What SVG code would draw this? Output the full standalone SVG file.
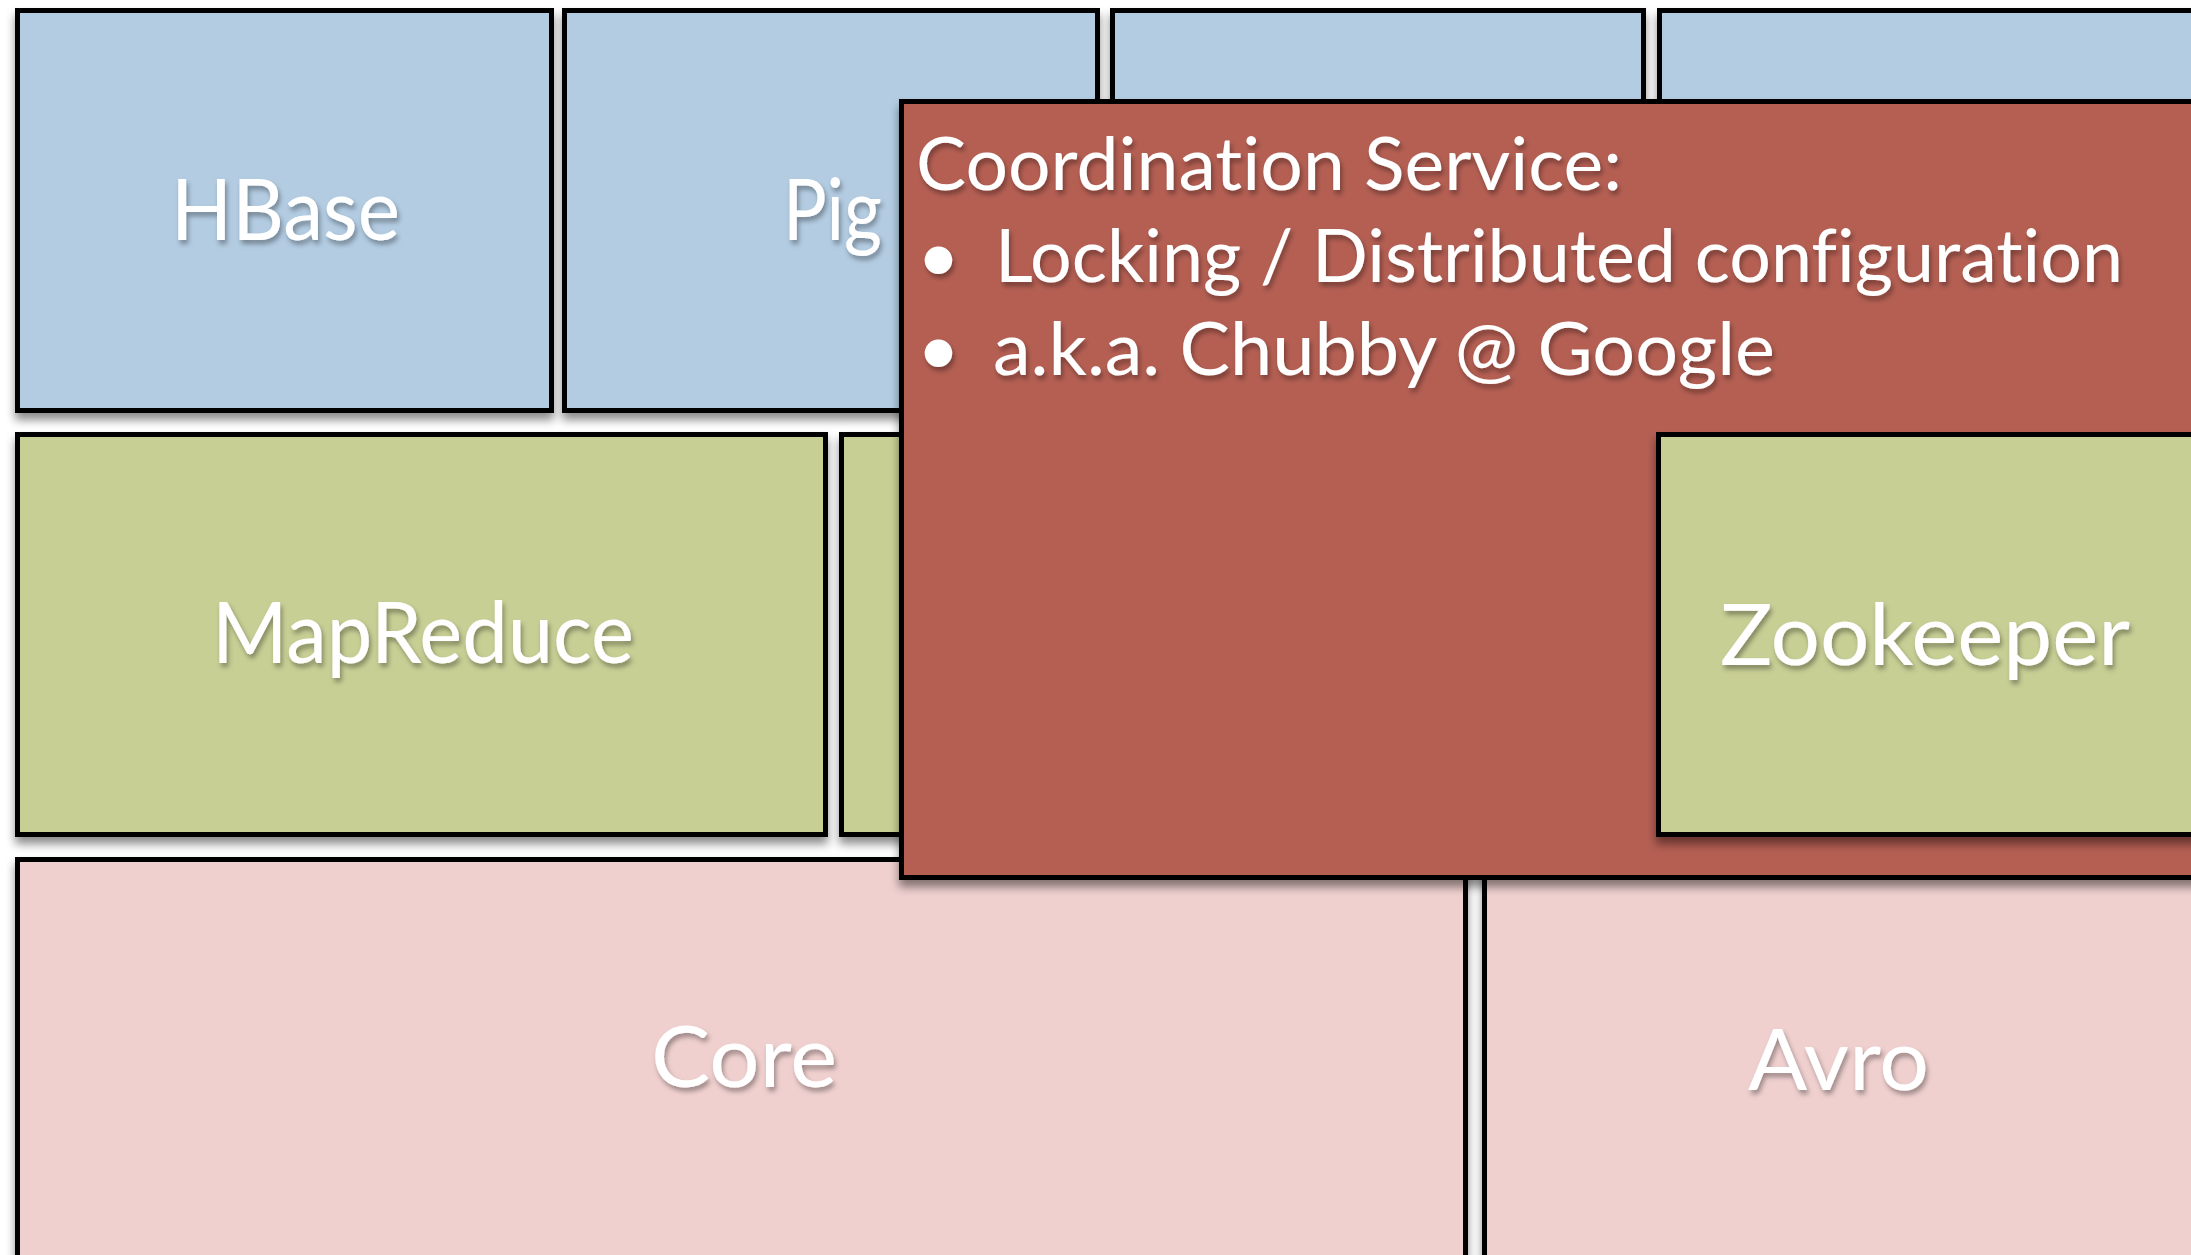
<svg xmlns="http://www.w3.org/2000/svg" width="2191" height="1255" viewBox="0 0 2191 1255">
  <defs>
    <filter id="boxShadow" x="-5%" y="-5%" width="110%" height="115%">
      <feDropShadow dx="0" dy="7" stdDeviation="5" flood-color="#000" flood-opacity="0.45"/>
    </filter>
    <filter id="textShadow" x="-10%" y="-20%" width="120%" height="150%">
      <feDropShadow dx="2" dy="4" stdDeviation="2.5" flood-color="#000" flood-opacity="0.35"/>
    </filter>
  </defs>
  <style>
    .box { stroke: #000; stroke-width: 5; filter: url(#boxShadow); }
    .blue { fill: #b3cce2; }
    .green { fill: #c8cf95; }
    .pink { fill: #efd0cf; }
    .red { fill: #b55e52; }
    .label { font-family: "Lato", "Open Sans", "Liberation Sans", sans-serif; font-size: 86px; fill: #fff; filter: url(#textShadow); font-variant-ligatures: none; }
    .body { font-family: "Lato", "Open Sans", "Liberation Sans", sans-serif; font-size: 74px; fill: #fff; filter: url(#textShadow); font-variant-ligatures: none; }
  </style>
  <rect x="0" y="0" width="2191" height="1255" fill="#ffffff"/>

  <g id="hbase">
    <rect class="box blue" x="17.5" y="10.5" width="534" height="400"/>
    <text class="label" x="171" y="240" textLength="229" lengthAdjust="spacingAndGlyphs">HBase</text>
  </g>
  <g id="pig">
    <rect class="box blue" x="564.5" y="10.5" width="533" height="400"/>
    <text class="label" x="783" y="240" textLength="99" lengthAdjust="spacingAndGlyphs">Pig</text>
  </g>
  <g id="blue3">
    <rect class="box blue" x="1112.5" y="10.5" width="531" height="400"/>
  </g>
  <g id="blue4">
    <rect class="box blue" x="1659.5" y="10.5" width="600" height="400"/>
  </g>

  <g id="mapreduce">
    <rect class="box green" x="17.5" y="434.5" width="808" height="400"/>
    <text class="label" x="212" y="663" textLength="422" lengthAdjust="spacingAndGlyphs">MapReduce</text>
  </g>
  <g id="green2">
    <rect class="box green" x="841.5" y="434.5" width="800" height="400"/>
  </g>

  <g id="core">
    <rect class="box pink" x="17.5" y="859.5" width="1448" height="500"/>
    <text class="label" x="651" y="1087" textLength="186" lengthAdjust="spacingAndGlyphs">Core</text>
  </g>
  <g id="avro">
    <rect class="box pink" x="1484.5" y="859.5" width="800" height="500"/>
    <text class="label" x="1748" y="1090" textLength="181" lengthAdjust="spacingAndGlyphs">Avro</text>
  </g>

  <g id="coordination-service">
    <rect class="box red" x="901.5" y="101.5" width="1400" height="776"/>
    <text class="body" x="916" y="190" textLength="706" lengthAdjust="spacingAndGlyphs">Coordination Service:</text>
    <text class="body" x="917" y="282">•</text>
    <text class="body" x="995" y="282" textLength="1128" lengthAdjust="spacingAndGlyphs">Locking / Distributed configuration</text>
    <text class="body" x="917" y="375">•</text>
    <text class="body" x="993" y="375" textLength="782" lengthAdjust="spacingAndGlyphs">a.k.a. Chubby @ Google</text>
  </g>

  <g id="zookeeper">
    <rect class="box green" x="1658.5" y="434.5" width="600" height="400"/>
    <text class="label" x="1720" y="665" textLength="410" lengthAdjust="spacingAndGlyphs">Zookeeper</text>
  </g>

  <g id="connectors"/>
</svg>
